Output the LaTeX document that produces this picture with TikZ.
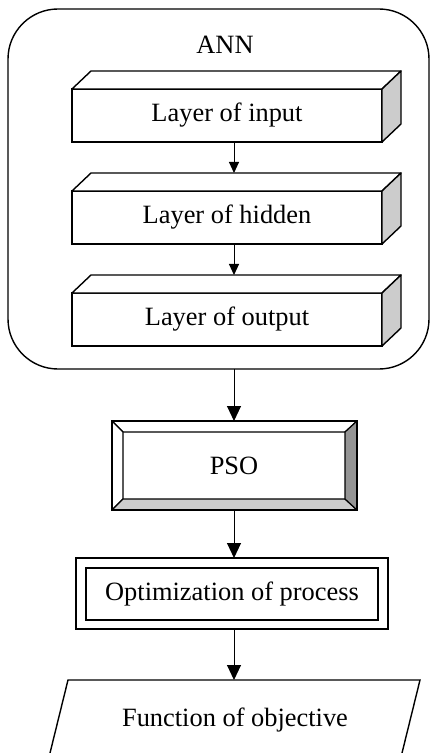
\documentclass[tikz,border=0pt]{standalone}
\usepackage{fontspec}
\setmainfont{Liberation Serif}
\usetikzlibrary{arrows.meta,calc}
\begin{document}
\begin{tikzpicture}[x=0.5pt,y=-0.5pt, font=\fontsize{13.2}{16}\selectfont,
  layerbox/.style={outer sep=0pt, inner sep=0pt, minimum width=155pt, minimum height=26.5pt, draw, line width=0.7pt, fill=white},
  topface/.style={fill=white, draw, line width=0.7pt, line join=round},
  sideface/.style={fill=black!20, draw, line width=0.7pt, line join=round},
  plain/.style={outer sep=0pt, inner sep=0pt},
  arr/.style={line width=0.5pt, -{Triangle[length=7.5pt,width=7pt]}},
  sarr/.style={line width=0.5pt, -{Triangle[length=5.5pt,width=5pt]}}]
\clip (0,0) rectangle (430,753);
% ANN container
\node[draw, line width=0.7pt, rounded corners=25pt, minimum width=210.5pt, minimum height=180pt, outer sep=0pt] (ann) at (218.5,189) {};
\node (annlabel) at (225,45) {ANN};
\coordinate (ax) at (234,0);
% layers
\foreach \nm/\yy/\tx in {lin/115.5/Layer of input, lhid/217.5/Layer of hidden, lout/319.5/Layer of output}{
  \node[layerbox] (\nm) at (227,\yy) {\tx};
  \draw[topface] (\nm.north west) -- ++(19,-18) -- ($(\nm.north east)+(19,-18)$) -- (\nm.north east) -- cycle;
  \draw[sideface] (\nm.north east) -- ++(19,-18) -- ($(\nm.south east)+(19,-18)$) -- (\nm.south east) -- cycle;
}
\coordinate (hidtop) at ($(lhid.north -| ax)+(0,-18)$);
\coordinate (outtop) at ($(lout.north -| ax)+(0,-18)$);
\draw[sarr] (lin.south -| ax) -- (hidtop);
\draw[sarr] (lhid.south -| ax) -- (outtop);
% PSO
\node[plain, minimum width=122.5pt, minimum height=44.5pt] (pso) at (234.5,465.5) {};
\node[plain, minimum width=111pt, minimum height=33.5pt] (psoin) at (234,465.5) {PSO};
\filldraw[fill=white, line width=0.6pt, line join=round] (pso.north west) -- (pso.north east) -- (psoin.north east) -- (psoin.north west) -- cycle;
\filldraw[fill=white, line width=0.6pt, line join=round] (pso.north west) -- (psoin.north west) -- (psoin.south west) -- (pso.south west) -- cycle;
\filldraw[fill=black!20, line width=0.6pt, line join=round] (pso.south west) -- (psoin.south west) -- (psoin.south east) -- (pso.south east) -- cycle;
\filldraw[fill=black!42, line width=0.6pt, line join=round] (pso.north east) -- (psoin.north east) -- (psoin.south east) -- (pso.south east) -- cycle;
\draw[line width=0.9pt] (pso.north west) rectangle (pso.south east);
\draw[arr] (ann.south -| ax) -- (pso.north -| ax);
% Optimization
\node[plain, draw, line width=0.8pt, minimum width=156pt, minimum height=35.5pt] (opt) at (232,593.5) {};
\node[plain, draw, line width=0.8pt, minimum width=146pt, minimum height=26pt] (optin) at (232,594) {Optimization of process};
\draw[arr] (pso.south -| ax) -- (opt.north -| ax);
% Function of objective
\node[plain] (obj) at (235,720) {Function of objective};
\coordinate (objtop) at (234,680);
\draw[line width=0.7pt, line join=miter] (50,753) -- (68,680) -- (420,680) -- (402,753);
\draw[arr] (opt.south -| ax) -- (objtop);
\end{tikzpicture}
\end{document}
